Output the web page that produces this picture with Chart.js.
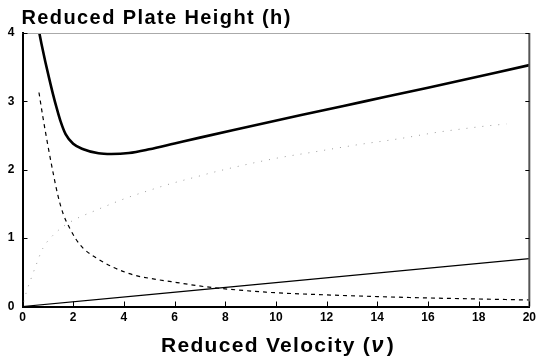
<!DOCTYPE html>
<html>
<head>
<meta charset="utf-8">
<script src="https://cdn.jsdelivr.net/npm/chart.js@4/dist/chart.umd.min.js"></script>
<style>
    html, body { margin: 0; padding: 0; background: #fff; }
    #wrap { width: 540px; height: 357px; }
</style>
</head>
<body>
<div id="wrap"><canvas id="chart" width="540" height="357"></canvas></div>
<script>
// Reduced velocity values (x) and plate-height terms
const totalV = [0.6, 0.75, 0.9, 1.05, 1.2, 1.35, 1.5, 1.7, 2.0, 2.4, 3.0, 3.5, 4.2, 5.0, 6.0, 7.0, 9.0, 11.0, 13.5, 16.0, 20];
const totalH = [4.12, 3.84, 3.58, 3.34, 3.11, 2.9, 2.71, 2.52, 2.38, 2.3, 2.24, 2.23, 2.245, 2.3, 2.385, 2.47, 2.635, 2.8, 3.0, 3.2, 3.53];

const diffusionV = [0.65, 0.8, 1.0, 1.2, 1.4, 1.6, 1.87, 2.1, 2.4, 3.0, 3.6, 4.4, 5.3, 6.1, 7.2, 9.6, 12, 14, 16, 18, 20];
const diffusionH = [3.13, 2.78, 2.36, 1.97, 1.62, 1.36, 1.14, 0.99, 0.85, 0.69, 0.57, 0.46, 0.395, 0.35, 0.29, 0.21, 0.17, 0.145, 0.125, 0.11, 0.095];

const eddyV = [0.05, 0.16, 0.36, 0.5, 0.8, 1.1, 1.5, 2.0, 2.85, 3.7, 4.2, 5.1, 5.7, 7.0, 7.5, 9.9, 11.5, 13.3, 14.8, 16.4, 17.2, 18.3, 19.1];
const eddyH = [0.07, 0.22, 0.43, 0.57, 0.85, 1.0, 1.14, 1.26, 1.4, 1.53, 1.6, 1.71, 1.78, 1.91, 1.96, 2.16, 2.26, 2.37, 2.45, 2.55, 2.59, 2.64, 2.67];

const massV = [0, 5, 10, 15, 20];
const massH = [0, 0.175, 0.35, 0.525, 0.7];

const xTicks = [0, 2, 4, 6, 8, 10, 12, 14, 16, 18, 20];
const yTicks = [0, 1, 2, 3, 4];

const chartTitle = 'Reduced Plate Height (h)';
const xTitle = 'Reduced Velocity (';
const xSymbol = 'ν';

const fontFamily = '"Liberation Sans", Arial, sans-serif';

function toPoints(xs, ys) {
    return xs.map((x, i) => ({ x: x, y: ys[i] }));
}

// Frame, inward ticks and titles
const framePlugin = {
    id: 'frame',
    afterDraw(chart) {
        const ctx = chart.ctx;
        const area = chart.chartArea;
        const xs = chart.scales.x;
        const ys = chart.scales.y;
        ctx.save();

        // top and right border
        ctx.strokeStyle = '#aaa';
        ctx.lineWidth = 1;
        ctx.beginPath();
        ctx.moveTo(area.left, area.top + 0.5);
        ctx.lineTo(area.right, area.top + 0.5);
        ctx.stroke();
        ctx.strokeStyle = '#555';
        ctx.lineWidth = 2;
        ctx.beginPath();
        ctx.moveTo(area.right, area.top);
        ctx.lineTo(area.right, area.bottom);
        ctx.stroke();

        // inward tick marks
        ctx.strokeStyle = '#000';
        ctx.lineWidth = 1;
        ctx.beginPath();
        xTicks.forEach(v => {
            const px = Math.round(xs.getPixelForValue(v)) + 0.5;
            ctx.moveTo(px, area.bottom);
            ctx.lineTo(px, area.bottom - 5);
        });
        yTicks.forEach(v => {
            const py = Math.round(ys.getPixelForValue(v)) + 0.5;
            ctx.moveTo(area.left, py);
            ctx.lineTo(area.left + 5, py);
            ctx.moveTo(area.right, py);
            ctx.lineTo(area.right - 4, py);
        });
        ctx.stroke();

        // chart title
        ctx.fillStyle = '#000';
        ctx.textBaseline = 'alphabetic';
        ctx.letterSpacing = '1.4px';
        ctx.font = 'bold 20px ' + fontFamily;
        ctx.textAlign = 'left';
        ctx.fillText(chartTitle, area.left - 1, 24);

        // x-axis title with italic nu
        ctx.letterSpacing = '1.3px';
        ctx.font = 'bold 21px ' + fontFamily;
        const w1 = ctx.measureText(xTitle).width;
        ctx.font = 'italic bold 22px ' + fontFamily;
        const w2 = ctx.measureText(xSymbol).width;
        ctx.font = 'bold 21px ' + fontFamily;
        const w3 = ctx.measureText(')').width;
        let x = 278 - (w1 + w2 + w3 + 2) / 2;
        ctx.fillText(xTitle, x, 352);
        x += w1;
        ctx.font = 'italic bold 22px ' + fontFamily;
        ctx.fillText(xSymbol, x, 352);
        x += w2 + 2;
        ctx.font = 'bold 21px ' + fontFamily;
        ctx.fillText(')', x, 352);
        ctx.restore();
    }
};

new Chart(document.getElementById('chart'), {
    type: 'scatter',
    data: {
        datasets: [
            {
                label: 'h',
                data: toPoints(totalV, totalH),
                showLine: true,
                borderColor: '#000',
                borderWidth: 2.6,
                pointRadius: 0,
                cubicInterpolationMode: 'monotone'
            },
            {
                label: 'B/v',
                data: toPoints(diffusionV, diffusionH),
                showLine: true,
                borderColor: '#000',
                borderWidth: 1.2,
                borderDash: [4, 4],
                pointRadius: 0,
                cubicInterpolationMode: 'monotone'
            },
            {
                label: 'A',
                data: toPoints(eddyV, eddyH),
                showLine: true,
                borderColor: '#9a9a9a',
                borderWidth: 1,
                borderDash: [1, 7],
                pointRadius: 0,
                cubicInterpolationMode: 'monotone'
            },
            {
                label: 'Cv',
                data: toPoints(massV, massH),
                showLine: true,
                borderColor: '#000',
                borderWidth: 1.2,
                pointRadius: 0
            }
        ]
    },
    options: {
        responsive: false,
        animation: false,
        layout: { padding: { top: 33, right: 9, left: 0, bottom: 0 } },
        plugins: {
            legend: { display: false },
            tooltip: { enabled: false }
        },
        scales: {
            x: {
                type: 'linear',
                min: 0,
                max: 20,
                afterBuildTicks: scale => { scale.ticks = xTicks.map(v => ({ value: v })); },
                afterFit: scale => { scale.height = 50.5; },
                grid: { display: false, drawTicks: false },
                border: { display: true, color: '#000', width: 2 },
                ticks: {
                    color: '#000',
                    padding: 4,
                    maxRotation: 0,
                    font: { family: fontFamily, size: 12, weight: 'bold' }
                }
            },
            y: {
                min: 0,
                max: 4,
                afterBuildTicks: scale => { scale.ticks = yTicks.map(v => ({ value: v })); },
                afterFit: scale => { scale.width = 22.5; },
                grid: { display: false, drawTicks: false },
                border: { display: true, color: '#000', width: 2 },
                ticks: {
                    color: '#000',
                    padding: 8,
                    font: { family: fontFamily, size: 12, weight: 'bold' }
                }
            }
        }
    },
    plugins: [framePlugin]
});
</script>
</body>
</html>
